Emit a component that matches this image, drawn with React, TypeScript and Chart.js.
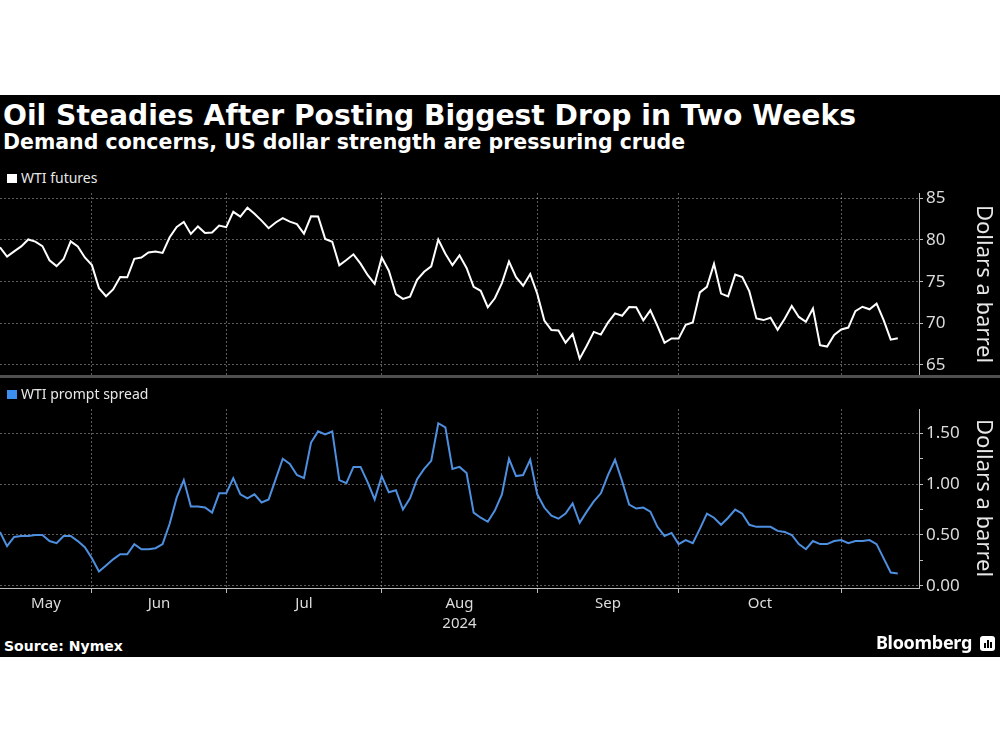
import React, { useEffect, useRef } from 'react';
import { Chart, registerables } from 'chart.js';

Chart.register(...registerables);

// ---------- data (one point per trading day, 13 May 2024 - 12 Nov 2024) ----------
const WTI_FUTURES = [
  79.12, 78.02, 78.63, 79.23, 80.06, 79.8, 79.26, 77.57, 76.87, 77.72,
  79.83, 79.23, 77.91, 76.99, 74.22, 73.25, 74.07, 75.55, 75.53, 77.74,
  77.9, 78.5, 78.62, 78.45, 80.33, 81.57, 82.17, 80.73, 81.63, 80.83,
  80.9, 81.74, 81.54, 83.38, 82.81, 83.88, 83.16, 82.33, 81.41, 82.1,
  82.62, 82.21, 81.91, 80.76, 82.85, 82.82, 80.13, 79.78, 76.96, 77.59,
  78.28, 77.16, 75.81, 74.73, 77.91, 76.31, 73.52, 72.94, 73.2, 75.23,
  76.19, 76.84, 80.06, 78.35, 76.98, 78.16, 76.65, 74.37, 73.9, 71.93,
  73.01, 74.83, 77.42, 75.53, 74.52, 75.91, 73.55, 70.34, 69.2, 69.15,
  67.67, 68.71, 65.75, 67.31, 68.97, 68.65, 70.09, 71.19, 70.91, 71.95,
  71.92, 70.37, 71.56, 69.69, 67.67, 68.18, 68.17, 69.83, 70.1, 73.71,
  74.38, 77.14, 73.57, 73.24, 75.85, 75.56, 73.83, 70.58, 70.39, 70.67,
  69.22, 70.56, 72.09, 70.77, 70.19, 71.78, 67.38, 67.21, 68.61, 69.26,
  69.49, 71.47, 71.99, 71.69, 72.36, 70.38, 68.04, 68.2,
];

const PROMPT_SPREAD = [
  0.53, 0.39, 0.48, 0.49, 0.49, 0.5, 0.5, 0.44, 0.42, 0.49,
  0.49, 0.44, 0.38, 0.27, 0.14, 0.2, 0.26, 0.31, 0.31, 0.41,
  0.36, 0.36, 0.37, 0.41, 0.61, 0.87, 1.04, 0.78, 0.78, 0.77,
  0.72, 0.91, 0.91, 1.06, 0.9, 0.86, 0.9, 0.82, 0.85, 1.05,
  1.25, 1.2, 1.09, 1.06, 1.41, 1.52, 1.49, 1.52, 1.04, 1.01,
  1.17, 1.17, 1.02, 0.85, 1.08, 0.92, 0.94, 0.75, 0.86, 1.05,
  1.15, 1.23, 1.6, 1.56, 1.15, 1.17, 1.11, 0.72, 0.67, 0.63,
  0.74, 0.9, 1.25, 1.08, 1.09, 1.24, 0.9, 0.77, 0.69, 0.66,
  0.71, 0.81, 0.62, 0.73, 0.83, 0.91, 1.09, 1.24, 1.03, 0.8,
  0.76, 0.77, 0.73, 0.58, 0.49, 0.52, 0.41, 0.45, 0.42, 0.56,
  0.71, 0.67, 0.6, 0.67, 0.75, 0.71, 0.6, 0.58, 0.58, 0.58,
  0.54, 0.53, 0.5, 0.41, 0.36, 0.44, 0.41, 0.41, 0.44, 0.45,
  0.42, 0.44, 0.44, 0.45, 0.41, 0.27, 0.13, 0.12,
];

// index of the last trading day of each month (month separators)
const MONTH_END_INDEX = [13, 32, 54, 76, 96, 119];
const MONTH_LABELS = ['May', 'Jun', 'Jul', 'Aug', 'Sep', 'Oct'];
const YEAR_LABEL = '2024';
const YEAR_UNDER_MONTH = 'Aug';
const X_MAX = 130;

const FUTURES_TICKS = [65, 70, 75, 80, 85];
const FUTURES_RANGE = [63.8, 85.64];
const SPREAD_TICKS = [0, 0.5, 1.0, 1.5];
const SPREAD_RANGE = [-0.022, 1.74];

// ---------- style ----------
const GRID = 'rgba(255,255,255,0.36)';
const AXIS = '#bdbdbd';
const TICK_TEXT = '#dcdcdc';
const WHITE_LINE = '#ffffff';
const BLUE_LINE = '#4e8fe0';
const BLUE_SQUARE = '#3a8ff0';
const SANS = '"Noto Sans", "DejaVu Sans", sans-serif';
const BOLD = '"DejaVu Sans", "Noto Sans", sans-serif';

function xScale(showLabels: boolean) {
  const bounds = MONTH_END_INDEX;
  const starts = [0, ...bounds.slice(0, -1)];
  const mids = MONTH_LABELS.map((_, i) => (starts[i] + bounds[i]) / 2);
  const isBound = (ctx: any) => ctx && ctx.tick && bounds.includes(ctx.tick.value);
  return {
    type: 'linear',
    position: 'bottom',
    min: 0,
    max: X_MAX,
    afterBuildTicks: (s: any) => {
      const vals = showLabels ? [...bounds, ...mids].sort((a, b) => a - b) : bounds.slice();
      s.ticks = vals.map((v) => ({ value: v }));
    },
    afterFit: (s: any) => {
      s.height = showLabels ? 50 : 0;
    },
    grid: {
      display: true,
      drawOnChartArea: true,
      drawTicks: showLabels,
      tickLength: 5,
      lineWidth: 1,
      color: (ctx: any) => (isBound(ctx) ? GRID : 'transparent'),
      tickColor: (ctx: any) => (isBound(ctx) ? AXIS : 'transparent'),
      tickBorderDash: [],
    },
    border: { display: showLabels, color: AXIS, width: 1, dash: [2, 2] },
    ticks: {
      display: showLabels,
      autoSkip: false,
      maxRotation: 0,
      minRotation: 0,
      padding: 1,
      color: TICK_TEXT,
      font: { family: SANS, size: 15, lineHeight: 1.3 },
      callback: (v: any) => {
        const i = mids.indexOf(v);
        if (i < 0) return '';
        return MONTH_LABELS[i] === YEAR_UNDER_MONTH ? [MONTH_LABELS[i], YEAR_LABEL] : MONTH_LABELS[i];
      },
    },
  };
}

function yScale(range: number[], majors: number[], digits: number) {
  const step = majors[1] - majors[0];
  const all: number[] = [];
  majors.forEach((v, i) => {
    all.push(v);
    if (i < majors.length - 1) all.push(v + step / 2);
  });
  const isMajor = (ctx: any) => ctx && ctx.tick && majors.includes(ctx.tick.value);
  return {
    type: 'linear',
    position: 'right',
    min: range[0],
    max: range[1],
    afterBuildTicks: (s: any) => {
      s.ticks = all.map((v) => ({ value: v }));
    },
    afterFit: (s: any) => {
      s.width = 81;
    },
    grid: {
      display: true,
      drawOnChartArea: true,
      drawTicks: true,
      tickLength: 4,
      lineWidth: 1,
      color: (ctx: any) => (isMajor(ctx) ? GRID : 'transparent'),
      tickColor: AXIS,
      tickBorderDash: [],
    },
    border: { display: true, color: AXIS, width: 1, dash: [2, 2] },
    ticks: {
      padding: 3,
      color: TICK_TEXT,
      font: { family: SANS, size: 17 },
      callback: (v: any) => (majors.includes(v) ? Number(v).toFixed(digits) : ''),
    },
  };
}

function makeChart(canvas: HTMLCanvasElement, values: number[], color: string, range: number[], majors: number[], digits: number, showX: boolean, padBottom: number) {
  return new Chart(canvas, {
    type: 'line',
    data: {
      datasets: [
        {
          data: values.map((v, i) => ({ x: i, y: v })),
          borderColor: color,
          borderWidth: 2,
          pointRadius: 0,
          tension: 0,
          fill: false,
        },
      ],
    },
    options: {
      animation: false,
      responsive: false,
      maintainAspectRatio: false,
      devicePixelRatio: 1,
      events: [],
      layout: { padding: { top: 14, bottom: padBottom, left: 0, right: 0 } },
      plugins: { legend: { display: false }, tooltip: { enabled: false }, title: { display: false } },
      scales: {
        x: xScale(showX) as any,
        y: yScale(range, majors, digits) as any,
      },
    } as any,
  });
}

function LegendItem({ top, color, label }: { top: number; color: string; label: string }) {
  return (
    <div style={{ position: 'absolute', left: 7, top, height: 18, display: 'flex', alignItems: 'center' }}>
      <div style={{ width: 10, height: 9, background: color, marginRight: 4 }} />
      <span style={{ color: '#e8e8e8', fontFamily: SANS, fontSize: 14, lineHeight: '18px' }}>{label}</span>
    </div>
  );
}

function AxisTitle({ top, height }: { top: number; height: number }) {
  return (
    <div
      style={{
        position: 'absolute',
        left: 970,
        width: 32,
        top,
        height,
        display: 'flex',
        alignItems: 'center',
        justifyContent: 'center',
      }}
    >
      <span style={{ writingMode: 'vertical-rl', color: '#e8e8e8', fontFamily: SANS, fontSize: 22, lineHeight: 1, whiteSpace: 'nowrap' }}>
        Dollars a barrel
      </span>
    </div>
  );
}

export default function App() {
  const topRef = useRef<HTMLCanvasElement | null>(null);
  const botRef = useRef<HTMLCanvasElement | null>(null);

  useEffect(() => {
    const a = makeChart(topRef.current!, WTI_FUTURES, WHITE_LINE, FUTURES_RANGE, FUTURES_TICKS, 0, false, 14);
    const b = makeChart(botRef.current!, PROMPT_SPREAD, BLUE_LINE, SPREAD_RANGE, SPREAD_TICKS, 2, true, 0);
    return () => {
      a.destroy();
      b.destroy();
    };
  }, []);

  return (
    <div style={{ position: 'fixed', left: 0, top: 0, width: 1000, height: 750, background: '#ffffff', overflow: 'hidden' }}>
      <div style={{ position: 'absolute', left: 0, top: 95, width: 1000, height: 562, background: '#000000' }} />
      <div
        style={{
          position: 'absolute',
          left: 3,
          top: 102,
          color: '#ffffff',
          fontFamily: BOLD,
          fontWeight: 700,
          fontSize: 28.2,
          lineHeight: 1,
          whiteSpace: 'nowrap',
        }}
      >
        Oil Steadies After Posting Biggest Drop in Two Weeks
      </div>
      <div
        style={{
          position: 'absolute',
          left: 3,
          top: 132,
          color: '#ffffff',
          fontFamily: BOLD,
          fontWeight: 700,
          fontSize: 20.5,
          lineHeight: 1,
          whiteSpace: 'nowrap',
        }}
      >
        Demand concerns, US dollar strength are pressuring crude
      </div>

      <LegendItem top={169} color="#ffffff" label="WTI futures" />
      <canvas ref={topRef} width={1000} height={210} style={{ position: 'absolute', left: 0, top: 179, width: 1000, height: 210 }} />
      <div style={{ position: 'absolute', left: 0, top: 375, width: 1000, height: 3, background: '#4f4f4f' }} />
      <AxisTitle top={193} height={182} />

      <LegendItem top={385} color={BLUE_SQUARE} label="WTI prompt spread" />
      <canvas ref={botRef} width={1000} height={243} style={{ position: 'absolute', left: 0, top: 395, width: 1000, height: 243 }} />
      <AxisTitle top={409} height={179} />

      <div
        style={{
          position: 'absolute',
          left: 4,
          top: 639,
          color: '#ffffff',
          fontFamily: BOLD,
          fontWeight: 700,
          fontSize: 14,
          lineHeight: 1,
          whiteSpace: 'nowrap',
        }}
      >
        Source: Nymex
      </div>
      <div
        style={{
          position: 'absolute',
          right: 28,
          top: 633,
          color: '#ffffff',
          fontFamily: SANS,
          fontWeight: 700,
          fontSize: 18,
          lineHeight: 1,
          whiteSpace: 'nowrap',
          letterSpacing: -0.3,
        }}
      >
        Bloomberg
      </div>
      <div
        style={{
          position: 'absolute',
          left: 980,
          top: 636,
          width: 15,
          height: 15,
          borderRadius: 3,
          background: '#ffffff',
          display: 'flex',
          alignItems: 'flex-end',
          justifyContent: 'center',
          gap: 1,
          paddingBottom: 3,
          boxSizing: 'border-box',
        }}
      >
        <div style={{ width: 2, height: 5, background: '#000' }} />
        <div style={{ width: 2, height: 8, background: '#000' }} />
        <div style={{ width: 2, height: 6, background: '#000' }} />
      </div>
    </div>
  );
}
